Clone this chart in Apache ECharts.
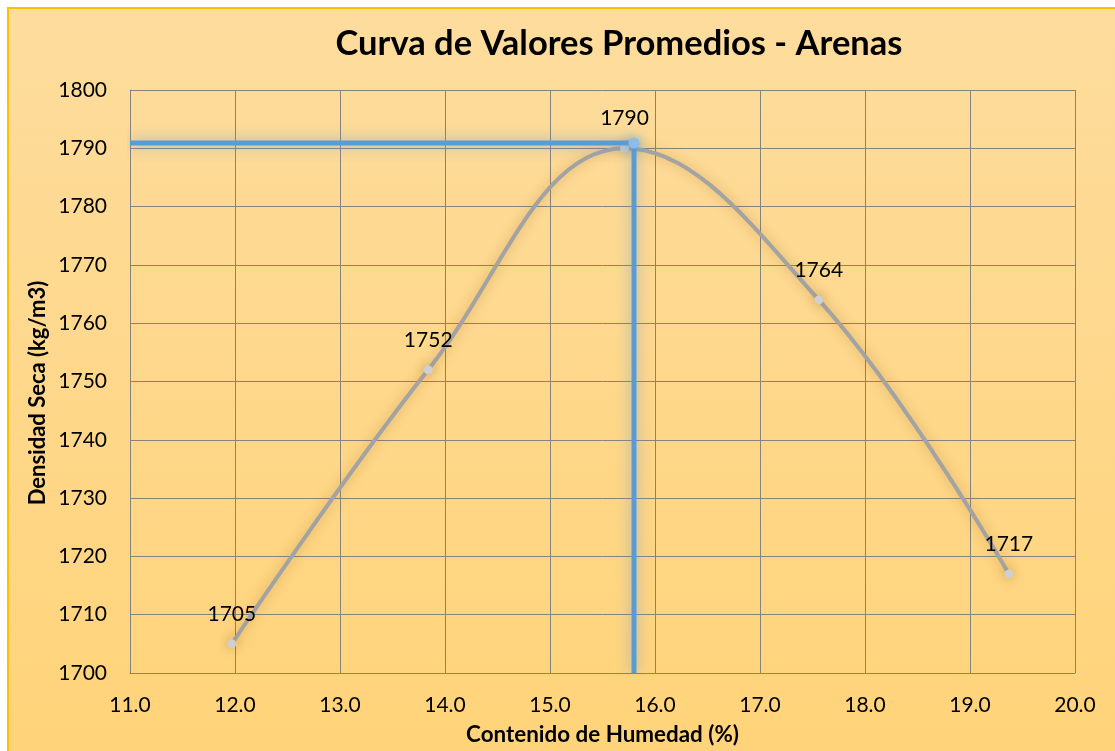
<!DOCTYPE html>
<html>
<head>
<meta charset="utf-8">
<script src="https://cdn.jsdelivr.net/npm/echarts@6/dist/echarts.min.js"></script>
<style>
  html, body { margin: 0; padding: 0; background: #fff; overflow: hidden; }
  #chart { width: 1115px; height: 751px; }
</style>
</head>
<body>
<div id="chart"></div>
<script>
// Moisture content (%) vs. dry density (kg/m3), average values for sands
const humedad = [11.97, 13.84, 15.71, 17.56, 19.37];
const densidad = [1705, 1752, 1790, 1764, 1717];
// Optimum: [moisture %, density]
const optimo = [15.8, 1790.9];
const xTicks = { min: 11, max: 20, step: 1 };
const yTicks = { min: 1700, max: 1800, step: 10 };

const FONT = 'Lato, "Open Sans", sans-serif';
const GRID_COLOR = '#86837C';

const chart = echarts.init(document.getElementById('chart'), null, { renderer: 'canvas' });

chart.setOption({
  backgroundColor: '#ffffff',
  animation: false,
  graphic: [
    {
      type: 'rect',
      z: -100,
      silent: true,
      shape: { x: 8, y: 8, width: 1130, height: 770 },
      style: {
        fill: new echarts.graphic.LinearGradient(0, 0, 0, 1, [
          { offset: 0, color: '#FDDC9D' },
          { offset: 1, color: '#FFD378' }
        ]),
        stroke: '#FFC000',
        lineWidth: 2
      }
    },
    {
      type: 'text',
      z: 10,
      x: 38,
      y: 393,
      rotation: Math.PI / 2,
      style: {
        text: 'Densidad Seca (kg/m3)',
        font: 'bold 22px ' + FONT,
        fill: '#000',
        textAlign: 'center',
        textVerticalAlign: 'middle'
      }
    }
  ],
  title: {
    text: 'Curva de Valores Promedios - Arenas',
    left: 614,
    top: 21,
    textAlign: 'center',
    textStyle: { fontFamily: FONT, fontWeight: 'bold', fontSize: 34.5, color: '#000' }
  },
  grid: { left: 130, right: 40, top: 90, bottom: 78, containLabel: false },
  xAxis: {
    type: 'value',
    min: xTicks.min,
    max: xTicks.max,
    interval: xTicks.step,
    name: 'Contenido de Humedad (%)',
    nameLocation: 'middle',
    nameGap: 51,
    nameTextStyle: { fontFamily: FONT, fontWeight: 'bold', fontSize: 22.4, color: '#000' },
    axisLine: { show: true, lineStyle: { color: GRID_COLOR, width: 1 } },
    axisTick: { show: false },
    axisLabel: {
      margin: 22,
      fontFamily: FONT, fontSize: 21, color: '#000',
      formatter: v => v.toFixed(1)
    },
    splitLine: { show: true, lineStyle: { color: GRID_COLOR, width: 1 } }
  },
  yAxis: {
    type: 'value',
    min: yTicks.min,
    max: yTicks.max,
    interval: yTicks.step,
    axisLine: { show: true, lineStyle: { color: GRID_COLOR, width: 1 } },
    axisTick: { show: false },
    axisLabel: {
      margin: 23,
      fontFamily: FONT, fontSize: 21, color: '#000',
      formatter: v => String(v)
    },
    splitLine: { show: true, lineStyle: { color: GRID_COLOR, width: 1 } }
  },
  series: [
    {
      type: 'line',
      z: 2,
      data: humedad.map((x, i) => [x, densidad[i]]),
      smooth: 0.4,
      symbol: 'circle',
      symbolSize: 9,
      itemStyle: {
        color: '#CFCFCF',
        shadowColor: 'rgba(150,100,30,0.5)',
        shadowBlur: 12
      },
      lineStyle: {
        color: '#A3A3A3',
        width: 4,
        shadowColor: 'rgba(150,100,30,0.4)',
        shadowBlur: 12
      },
      label: {
        show: true,
        position: 'top',
        distance: 15,
        fontFamily: FONT,
        fontSize: 21,
        color: '#000',
        formatter: p => Math.round(p.value[1])
      }
    },
    {
      type: 'line',
      z: 3,
      data: [
        { value: [xTicks.min, optimo[1]], symbolSize: 0 },
        { value: [optimo[0], optimo[1]], symbolSize: 11 },
        { value: [optimo[0], yTicks.min], symbolSize: 0 }
      ],
      symbol: 'circle',
      showSymbol: true,
      itemStyle: {
        color: '#8DBCE6',
        shadowColor: 'rgba(91,155,213,0.8)',
        shadowBlur: 12
      },
      lineStyle: {
        color: '#5B9BD5',
        width: 5,
        shadowColor: 'rgba(91,155,213,0.7)',
        shadowBlur: 14
      },
      label: { show: false }
    }
  ]
});
</script>
</body>
</html>
